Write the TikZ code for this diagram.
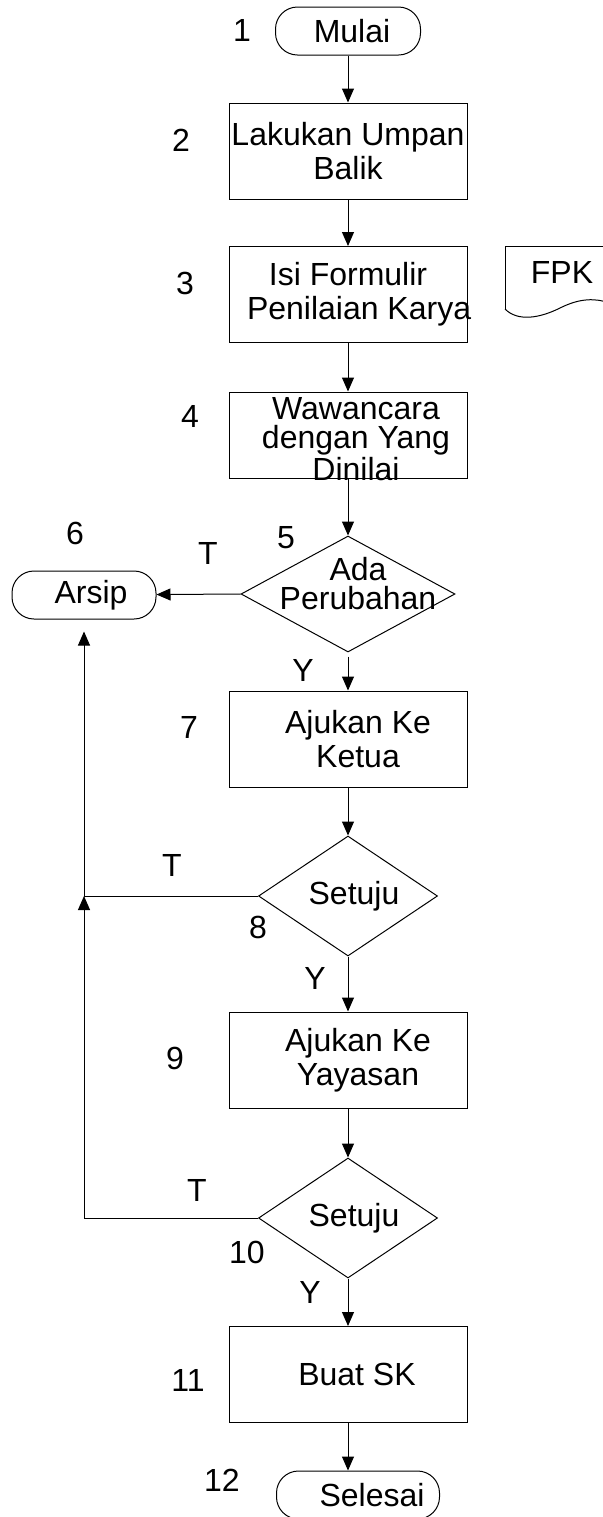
\documentclass[tikz,border=0pt]{standalone}
\usepackage{fontspec}
\setmainfont{Liberation Sans}
\usetikzlibrary{arrows.meta,shapes.geometric}

\tikzset{
  flow/.style={-{Triangle[width=6pt,length=7pt]}},
  proc/.style={draw, rectangle, minimum width=119pt, minimum height=48pt, inner sep=0pt, align=center},
  term/.style={draw, rectangle, rounded corners=11pt, minimum height=24pt, inner sep=0pt},
  decision/.style={draw, diamond, aspect=1.5, inner sep=0pt, minimum width=89.5pt, minimum height=60pt, align=center},
  tight/.style={align=center, font=\fontsize{16}{14.5}\selectfont}
}

\begin{document}
\begin{tikzpicture}[x=0.5pt, y=-0.5pt, line width=0.5pt, font=\fontsize{16}{17}\selectfont]

    \useasboundingbox (0,0) rectangle (603,1517);
    \clip (0,0) rectangle (603,1517);

    % main column
    \node[term, minimum width=72.5pt] (mulai) at (348,31) {\hspace*{4pt}Mulai};
    \node[proc] (umpan) at (348,151) {Lakukan Umpan\\Balik};
    \node[proc] (formulir) at (348,294.5) {Isi Formulir\\\makebox[119pt][l]{\hspace*{9pt}Penilaian Karya}};
    \node[proc, minimum height=43pt, label={[tight, xshift=4pt, yshift=-2pt]center:{Wawancara\\dengan Yang\\Dinilai}}] (wawancara) at (348,435) {};
    \node[decision, minimum width=107pt, minimum height=58pt, label={[tight, xshift=5pt, yshift=5pt]center:{Ada\\Perubahan}}] (ubah) at (348,594) {};
    \node[proc] (ketua) at (348,739) {\hspace*{10pt}Ajukan Ke\\\hspace*{10pt}Ketua};
    \node[decision] (setuju1) at (348,896) {\hspace*{6pt}Setuju};
    \node[proc] (yayasan) at (348,1060) {\hspace*{10pt}Ajukan Ke\\\hspace*{10pt}Yayasan};
    \node[decision] (setuju2) at (348,1218) {\hspace*{6pt}Setuju};
    \node[proc] (sk) at (348,1374.5) {\hspace*{9pt}Buat SK};
    \node[term, minimum width=81.5pt] (selesai) at (358,1495) {\hspace*{14pt}Selesai};

    % archive on the left
    \node[term, minimum width=72pt] (arsip) at (84,595) {\hspace*{7pt}Arsip};
    \coordinate (j1) at (84,896);
    \coordinate (j2) at (84,1218);

    % form document
    \draw (505,309) -- (505,246) -- (610,246);
    \draw (505,309) .. controls (518,322) and (540,318) .. (560,308) .. controls (580,298) and (595,298) .. (610,303);
    \node (fpk) at (562,272) {FPK};

    % step numbers
    \node (n1) at (242,30) {1};
    \node (n2) at (181,140) {2};
    \node (n3) at (185,283) {3};
    \node (n4) at (190,416) {4};
    \node (n5) at (286,538) {5};
    \node (n6) at (75,533) {6};
    \node (n7) at (189,727) {7};
    \node (n8) at (258,927) {8};
    \node (n9) at (175,1058) {9};
    \node (n10) at (247,1252) {10};
    \node (n11) at (188,1380) {11};
    \node (n12) at (222,1480) {12};

    % answers
    \node (t5) at (208,553) {T};
    \node (t8) at (172,865) {T};
    \node (t10) at (197,1190) {T};
    \node (y5) at (303,670) {Y};
    \node (y8) at (315,978) {Y};
    \node (y10) at (310,1292) {Y};

    % connectors
    \draw[flow] (mulai) -- (umpan);
    \draw[flow] (umpan) -- (formulir);
    \draw[flow] (formulir) -- (wawancara);
    \draw[flow] (wawancara) -- (ubah);
    \draw[flow] (ubah.west) -- (arsip);
    \draw[flow, shorten <=2pt] (ubah) -- (ketua);
    \draw[flow] (ketua) -- (setuju1);
    \draw[flow] (setuju1) -- (yayasan);
    \draw[flow] (yayasan) -- (setuju2);
    \draw[flow] (setuju2) -- (sk);
    \draw[flow] (sk.south) -- (sk.south |- selesai.north);

    \draw (setuju1.west) -- (j1);
    \draw[flow] (setuju2.west) -- (j2) -- (j1);
    \draw[flow, shorten >=6pt] (j1) -- (arsip);

\end{tikzpicture}
\end{document}
